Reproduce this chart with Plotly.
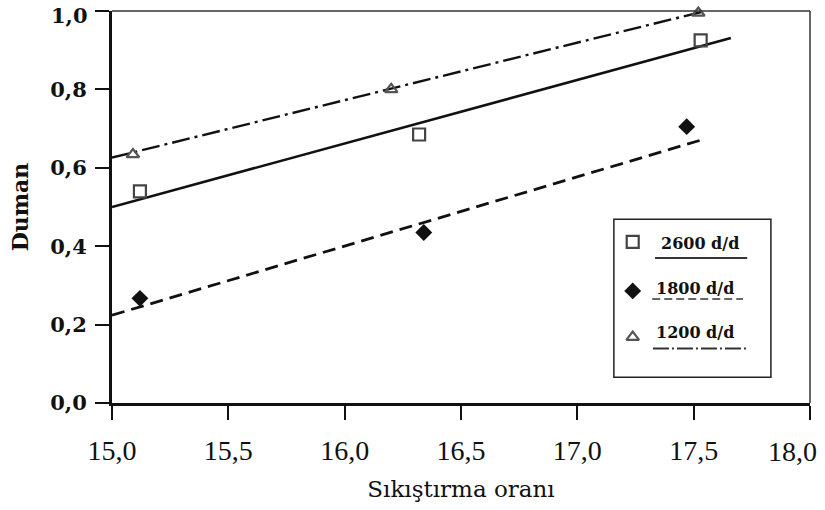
import plotly.graph_objects as go

# ---- data ----
x_2600 = [15.12, 16.32, 17.53]
y_2600 = [0.54, 0.685, 0.925]
x_1800 = [15.12, 16.34, 17.47]
y_1800 = [0.267, 0.435, 0.705]
x_1200 = [15.09, 16.20, 17.52]
y_1200 = [0.634, 0.800, 0.995]

fit_x_2600 = [15.0, 17.66]
fit_y_2600 = [0.500, 0.931]
fit_x_1800 = [15.0, 17.55]
fit_y_1800 = [0.224, 0.674]
fit_x_1200 = [15.0, 17.55]
fit_y_1200 = [0.626, 1.000]

legend_labels = ["2600 d/d", "1800 d/d", "1200 d/d"]
x_ticks = [15.0, 15.5, 16.0, 16.5, 17.0, 17.5, 18.0]
x_tick_text = ["15,0", "15,5", "16,0", "16,5", "17,0", "17,5", "18,0"]
y_ticks = [0.0, 0.2, 0.4, 0.6, 0.8, 1.0]
y_tick_text = ["0,0", "0,2", "0,4", "0,6", "0,8", "1,0"]

INK = "#111111"
SERIF = "DejaVu Serif"
TIMES = "Liberation Serif"

fig = go.Figure()

# fit lines
fig.add_trace(go.Scatter(x=fit_x_2600, y=fit_y_2600, mode="lines",
                         line=dict(color=INK, width=2.6), cliponaxis=False, showlegend=False))
fig.add_trace(go.Scatter(x=fit_x_1800, y=fit_y_1800, mode="lines",
                         line=dict(color=INK, width=2.8, dash="13px,7px"), cliponaxis=False, showlegend=False))
fig.add_trace(go.Scatter(x=fit_x_1200, y=fit_y_1200, mode="lines",
                         line=dict(color=INK, width=2.4, dash="18px,5px,3px,5px"), cliponaxis=False, showlegend=False))

# points
sq = dict(symbol="square-open", size=12, color="#444444", line=dict(width=2.2, color="#444444"))
dm = dict(symbol="diamond", size=13, color=INK)
tr = dict(symbol="triangle-up-open", size=11, color="#555555", line=dict(width=2.2, color="#555555"))
fig.add_trace(go.Scatter(x=x_2600, y=y_2600, mode="markers", marker=sq, cliponaxis=False, showlegend=False))
fig.add_trace(go.Scatter(x=x_1800, y=y_1800, mode="markers", marker=dm, cliponaxis=False, showlegend=False))
fig.add_trace(go.Scatter(x=x_1200, y=y_1200, mode="markers", marker=tr, cliponaxis=False, showlegend=False))

# custom legend (overlay axes spanning the plot area, 0..1)
leg_mx = [0.746, 0.746, 0.746]
leg_my = [0.411, 0.286, 0.168]
for mk, lx, ly in zip([sq, dm, tr], leg_mx, leg_my):
    fig.add_trace(go.Scatter(x=[lx], y=[ly], xaxis="x2", yaxis="y2", mode="markers",
                             marker=mk, cliponaxis=False, showlegend=False))

shapes = [
    dict(type="line", xref="paper", yref="paper", x0=0, x1=1, y0=1, y1=1,
         line=dict(color="#333333", width=1.5)),
    dict(type="line", xref="paper", yref="paper", x0=1, x1=1, y0=0, y1=1,
         line=dict(color="#333333", width=1.5)),
    dict(type="rect", xref="paper", yref="paper", x0=0.719, x1=0.944, y0=0.066, y1=0.469,
         line=dict(color="#222222", width=1.5), fillcolor="white", layer="below"),
    dict(type="line", xref="paper", yref="paper", x0=0.778, x1=0.910, y0=0.370, y1=0.370,
         line=dict(color="#333333", width=2)),
    dict(type="line", xref="paper", yref="paper", x0=0.774, x1=0.904, y0=0.265, y1=0.265,
         line=dict(color="#666666", width=2, dash="8px,4px")),
    dict(type="line", xref="paper", yref="paper", x0=0.775, x1=0.911, y0=0.139, y1=0.139,
         line=dict(color="#333333", width=2, dash="16px,3px,2px,3px")),
]

annotations = []
for lab, lx, ly in zip(legend_labels, [0.784, 0.777, 0.777], [0.408, 0.293, 0.181]):
    annotations.append(dict(xref="paper", yref="paper", x=lx, y=ly, text=lab,
                            showarrow=False, xanchor="left", yanchor="middle",
                            font=dict(family=SERIF, size=16, color=INK, weight="bold")))

# end tick labels placed as annotations so they stay inside the page
x_ticktext_axis = x_tick_text[:-1] + [""]
y_ticktext_axis = y_tick_text[:-1] + [""]
annotations.append(dict(xref="x", yref="paper", x=x_ticks[-1], y=0, text=x_tick_text[-1],
                        showarrow=False, xanchor="right", yanchor="middle",
                        xshift=9, yshift=-48,
                        font=dict(family=TIMES, size=28, color=INK)))
annotations.append(dict(xref="paper", yref="y", x=0, y=y_ticks[-1], text=y_tick_text[-1],
                        showarrow=False, xanchor="right", yanchor="middle",
                        xshift=-22, yshift=-4,
                        font=dict(family=SERIF, size=21, color=INK, weight="bold")))

fig.update_layout(
    width=825, height=510,
    margin=dict(l=112, r=15, t=11, b=107),
    paper_bgcolor="white", plot_bgcolor="white",
    shapes=shapes, annotations=annotations,
    xaxis=dict(range=[15, 18], tickvals=x_ticks, ticktext=x_ticktext_axis, automargin=False,
               showgrid=False, zeroline=False, showline=True, linecolor=INK, linewidth=3,
               ticks="outside", ticklen=14, tickwidth=2, tickcolor=INK,
               ticklabeloverflow="allow", ticklabelstandoff=6,
               tickfont=dict(family=TIMES, size=28, color=INK),
               title=dict(text="Sıkıştırma oranı", standoff=17,
                          font=dict(family=SERIF, size=23, color=INK))),
    yaxis=dict(range=[0, 1.0], tickvals=y_ticks, ticktext=y_ticktext_axis, automargin=False,
               showgrid=False, zeroline=False, showline=True, linecolor=INK, linewidth=3,
               ticks="outside", ticklen=14, tickwidth=2, tickcolor=INK,
               ticklabeloverflow="allow", ticklabelstandoff=4,
               tickfont=dict(family=SERIF, size=21, color=INK, weight="bold"),
               title=dict(text="Duman", standoff=16,
                          font=dict(family=SERIF, size=22, color=INK, weight="bold"))),
    xaxis2=dict(overlaying="x", range=[0, 1], visible=False),
    yaxis2=dict(overlaying="y", range=[0, 1], visible=False),
)

fig.write_html("out.html", config={"displayModeBar": False},
               post_script="document.body.style.margin='0';document.body.style.overflow='hidden';")
